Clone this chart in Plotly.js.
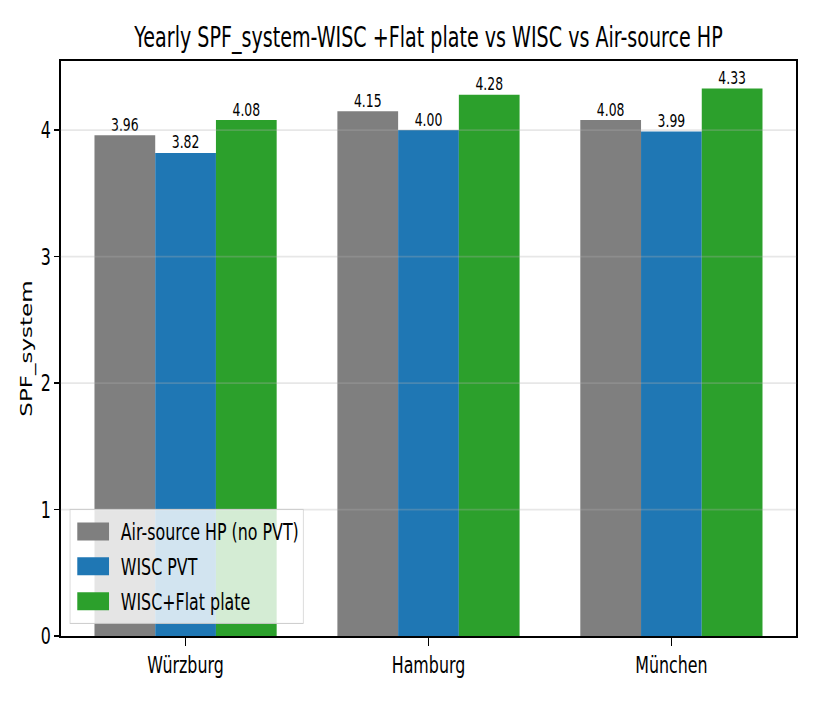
<!DOCTYPE html>
<html>
<head>
<meta charset="utf-8">
<script src="https://cdn.plot.ly/plotly-3.0.1.min.js"></script>
<style>
  html, body { margin: 0; padding: 0; overflow: hidden; width: 813px; height: 704px; background: #fff; }
  #wrap { width: 1178px; height: 704px; transform: scaleX(0.69); transform-origin: 0 0; }
</style>
</head>
<body>
<div id="wrap"><div id="chart" style="width:1178px;height:704px;"></div></div>
<script>
// ---- data ----
const cities = ['Würzburg', 'Hamburg', 'München'];
const airSourceHP = [3.96, 4.15, 4.08];
const wiscPVT = [3.82, 4.00, 3.99];
const wiscFlatPlate = [4.08, 4.28, 4.33];
const seriesNames = ['Air-source HP (no PVT)', 'WISC PVT', 'WISC+Flat plate'];
const yTickVals = [0, 1, 2, 3, 4];
const yTickText = ['0', '1', '2', '3', '4'];

// ---- style ----
const colors = ['#7f7f7f', '#1f77b4', '#2ca02c'];
const FONT = 'DejaVu Sans, sans-serif';
const seriesValues = [airSourceHP, wiscPVT, wiscFlatPlate];

const traces = seriesValues.map(function (vals, i) {
  return {
    type: 'bar',
    x: cities,
    y: vals,
    name: seriesNames[i],
    legendgroup: 'g' + i,
    marker: { color: colors[i], line: { width: 0 } },
    text: vals.map(function (v) { return v.toFixed(2); }),
    textposition: 'outside',
    textfont: { family: FONT, size: 18, color: '#000' },
    constraintext: 'none',
    cliponaxis: false,
    hoverinfo: 'skip'
  };
});

const gridShapes = yTickVals.filter(function (v) { return v > 0; }).map(function (v) {
  return {
    type: 'line', xref: 'paper', x0: 0, x1: 1, yref: 'y', y0: v, y1: v,
    line: { color: 'rgba(176,176,176,0.3)', width: 1.8 }, layer: 'above'
  };
});

const layout = {
  width: 1178,
  height: 704,
  margin: { l: 88, r: 24, t: 61, b: 68 },
  paper_bgcolor: '#fff',
  plot_bgcolor: '#fff',
  font: { family: FONT, size: 23, color: '#000' },
  title: {
    text: 'Yearly SPF_system-WISC +Flat plate vs WISC vs Air-source HP',
    font: { family: FONT, size: 27.7, color: '#000' },
    x: 0.5, xref: 'paper', xanchor: 'center',
    y: 0.9474, yref: 'container', yanchor: 'middle'
  },
  barmode: 'group',
  bargap: 0.25,
  bargroupgap: 0,
  showlegend: true,
  legend: {
    x: 0.0122, y: 0.021, xanchor: 'left', yanchor: 'bottom',
    bgcolor: 'rgba(255,255,255,0.8)', bordercolor: '#cccccc', borderwidth: 1,
    font: { family: FONT, size: 23, color: '#000' },
    traceorder: 'grouped', tracegroupgap: 2, itemwidth: 63
  },
  xaxis: {
    type: 'category',
    range: [-0.514, 2.514],
    showgrid: false,
    showline: true, mirror: true, linecolor: '#000', linewidth: 1.8,
    ticks: 'outside', ticklen: 8, tickwidth: 1.8, tickcolor: '#000',
    tickfont: { family: FONT, size: 23, color: '#000' },
    zeroline: false
  },
  yaxis: {
    range: [0, 4.5465],
    tickvals: yTickVals,
    ticktext: yTickText,
    showgrid: false,
    showline: true, mirror: true, linecolor: '#000', linewidth: 1.8,
    ticks: 'outside', ticklen: 8, tickwidth: 1.8, tickcolor: '#000',
    tickfont: { family: FONT, size: 23, color: '#000' },
    zeroline: false,
    automargin: true,
    title: { text: 'SPF_system', font: { family: FONT, size: 23, color: '#000' }, standoff: 5 }
  },
  shapes: gridShapes
};

const gd = document.getElementById('chart');
Plotly.newPlot(gd, traces, layout, { staticPlot: true, displayModeBar: false }).then(function () {
  gd.querySelectorAll('.legend .legendpoints path').forEach(function (p) {
    p.setAttribute('d', 'M23,9H-23V-9H23Z');
    p.setAttribute('transform', 'translate(33,0)');
  });
  gd.querySelectorAll('.barlayer .bartext').forEach(function (t) {
    var tr = t.getAttribute('transform') || '';
    t.setAttribute('transform', 'translate(0,2.5) ' + tr);
  });
});
</script>
</body>
</html>
